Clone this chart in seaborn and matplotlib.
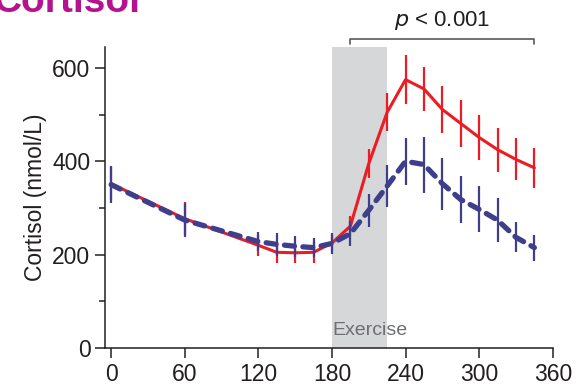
import numpy as np
import pandas as pd
import matplotlib
matplotlib.use("Agg")
import matplotlib.pyplot as plt
import seaborn as sns

# time points (min)
minutes = [0, 60, 120, 135, 150, 165, 180, 195, 210, 225, 240, 255, 270, 285, 300, 315, 330, 345]
# red solid series
red_mean = [352, 277, 220, 205, 204, 205, 225, 261, 395, 505, 575, 555, 511, 481, 451, 425, 404, 386]
red_err = [35, 35, 22, 22, 22, 22, 18, 22, 31, 41, 52, 48, 50, 50, 48, 47, 45, 43]
# blue dashed series
blue_mean = [350, 274, 228, 222, 218, 215, 224, 245, 295, 347, 400, 393, 352, 318, 297, 274, 237, 215]
blue_err = [39, 36, 20, 25, 22, 20, 23, 26, 35, 44, 50, 60, 56, 51, 49, 47, 32, 28]

y_ticks = [0, 200, 400, 600]
x_ticks = [0, 60, 120, 180, 240, 300, 360]

red = "#ec1c24"
blue = "#3f3e8d"

df = pd.DataFrame({"t": minutes, "red": red_mean, "blue": blue_mean})

sns.set_style("ticks")
plt.rcParams["font.family"] = ["Liberation Sans", "DejaVu Sans"]

fig = plt.figure(figsize=(5.77, 3.90), dpi=100)
ax = fig.add_axes([0.182, 0.1077, 0.776, 0.772])

# exercise window
ax.axvspan(180, 225, color="#d6d7d9", zorder=0, lw=0)
ax.text(180, 28, "Exercise", color="#6d6e71", fontsize=14, ha="left", va="baseline")

# red solid
ax.vlines(df["t"], np.array(red_mean) - np.array(red_err), np.array(red_mean) + np.array(red_err),
          color=red, lw=1.6, zorder=2)
sns.lineplot(data=df, x="t", y="red", color=red, lw=2.2, ax=ax, zorder=3)

# blue dashed
ax.vlines(df["t"], np.array(blue_mean) - np.array(blue_err), np.array(blue_mean) + np.array(blue_err),
          color=blue, lw=1.6, zorder=4)
sns.lineplot(data=df, x="t", y="blue", color=blue, lw=3.8, ax=ax, zorder=5,
             linestyle=(0, (1.9, 1.6)), dash_capstyle="round")

ax.set_xlim(-5, 360)
ax.set_ylim(0, 645)
ax.set_xticks(x_ticks)
ax.set_yticks(y_ticks)
ax.set_yticks([100, 300, 500], minor=True)
ax.tick_params(axis="both", labelsize=16.5, colors="#231f20", width=1.1)
ax.tick_params(axis="both", which="major", length=7)
ax.tick_params(axis="y", which="minor", length=4, width=1.1, colors="#231f20")
ax.set_xlabel("")
ax.set_ylabel("Cortisol (nmol/L)", fontsize=16.5, color="#231f20")
sns.despine(ax=ax)
for s in ["left", "bottom"]:
    ax.spines[s].set_linewidth(1.1)
    ax.spines[s].set_color("#231f20")

# significance bracket
ax.plot([195, 195, 345, 345], [651, 662, 662, 651], color="#58595b", lw=1.2, clip_on=False)
ax.text(270, 702, "$p$ < 0.001", fontsize=16, ha="center", va="center", color="#231f20")

# panel title (cut off at the top, as in the source figure)
fig.text(-0.012, 1 - 12 / 390, "Cortisol", fontsize=28, fontweight="bold", color="#b5128f",
         ha="left", va="baseline")

fig.savefig("out.png", dpi=100)
